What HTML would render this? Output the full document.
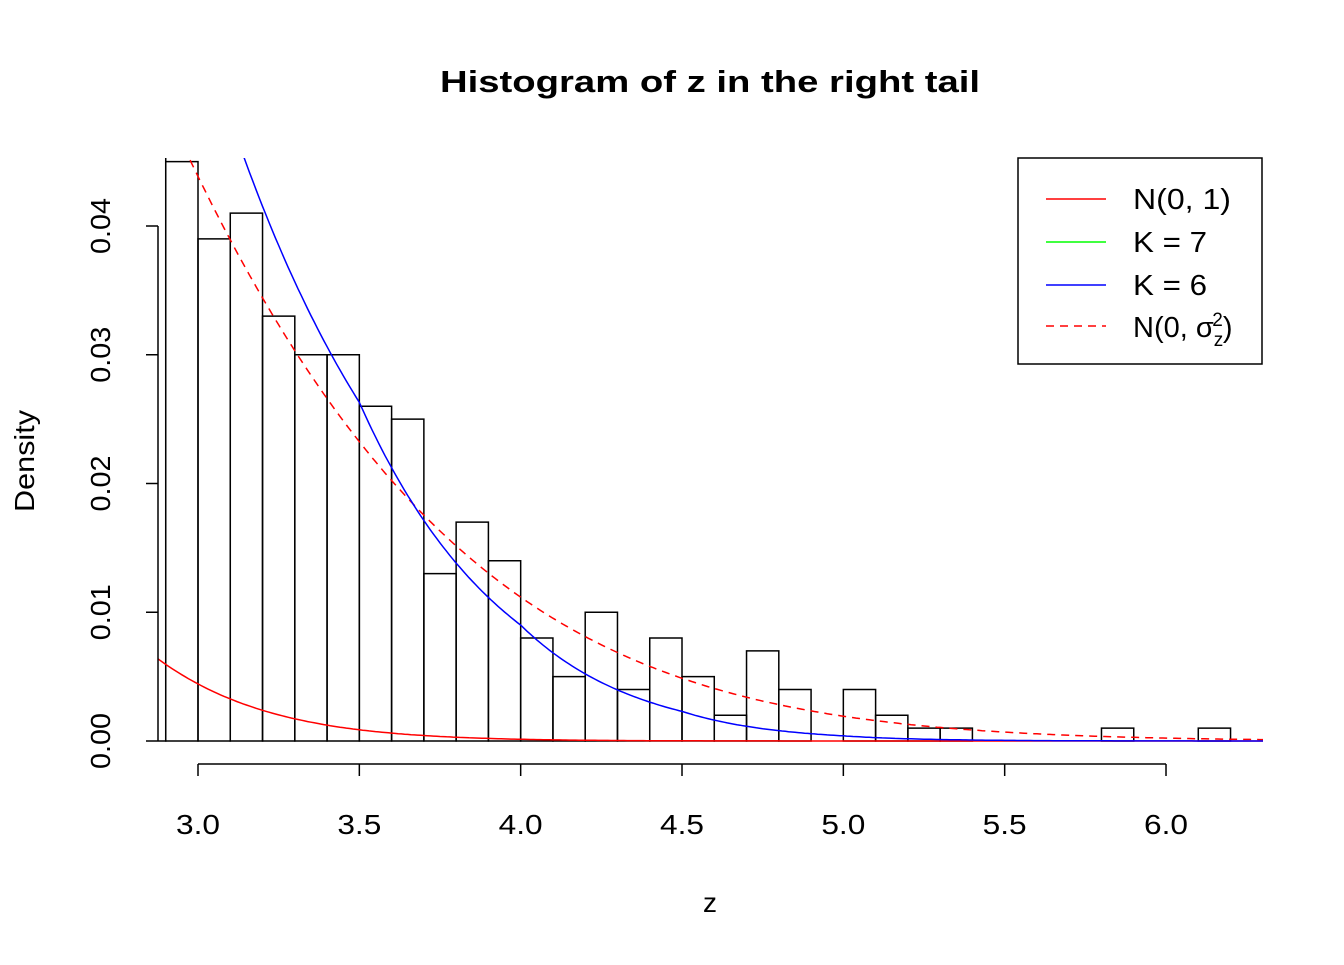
<!DOCTYPE html>
<html><head><meta charset="utf-8"><style>
body{margin:0;background:#fff}
svg text{font-family:"Liberation Sans",Arial,sans-serif;fill:#000}
</style></head><body>
<svg id="s" width="1344" height="960" xmlns="http://www.w3.org/2000/svg">
<defs><clipPath id="c"><rect x="158" y="158" width="1105" height="590"/></clipPath></defs>
<text x="710" y="92" font-size="31" font-weight="bold" text-anchor="middle" textLength="540" lengthAdjust="spacingAndGlyphs">Histogram of z in the right tail</text>
<g id="bars" clip-path="url(#c)" fill="none" stroke="#000" stroke-width="1.5"></g>
<g id="curves" clip-path="url(#c)" fill="none" stroke-width="1.5"></g>
<g stroke="#000" stroke-width="1.5" fill="none">
<line x1="158" y1="226" x2="158" y2="741"/>
<line x1="198" y1="764" x2="1166" y2="764"/>
</g>
<g id="ax" stroke="#000" stroke-width="1.5"></g>
<text x="710" y="912" font-size="28" text-anchor="middle">z</text>
<text transform="translate(34,461) rotate(-90)" font-size="28" text-anchor="middle" textLength="102" lengthAdjust="spacingAndGlyphs">Density</text>
<rect x="1018" y="158" width="244" height="206" fill="#fff" stroke="#000" stroke-width="1.5"/>
<line x1="1046" y1="199" x2="1106" y2="199" stroke="#f00" stroke-width="1.5"/>
<line x1="1046" y1="242" x2="1106" y2="242" stroke="#0f0" stroke-width="1.5"/>
<line x1="1046" y1="285" x2="1106" y2="285" stroke="#00f" stroke-width="1.5"/>
<line x1="1046" y1="326" x2="1106" y2="326" stroke="#f00" stroke-width="1.5" stroke-dasharray="8,6"/>
<text x="1133" y="209" font-size="29" textLength="98" lengthAdjust="spacingAndGlyphs">N(0, 1)</text>
<text x="1133" y="252" font-size="29" textLength="74" lengthAdjust="spacingAndGlyphs">K = 7</text>
<text x="1133" y="295" font-size="29" textLength="74" lengthAdjust="spacingAndGlyphs">K = 6</text>
<text x="1133" y="337" font-size="29">N(0, σ<tspan font-size="19" dy="9">z</tspan><tspan font-size="19" dx="-11" dy="-20">2</tspan><tspan dy="11">)</tspan></text>
</svg>
<script>
const X=z=>198+(z-3)*322.67, Y=d=>741-d*12875, NS="http://www.w3.org/2000/svg";
function el(p,t,a){const e=document.createElementNS(NS,t);for(const k in a)e.setAttribute(k,a[k]);p.appendChild(e);return e;}
const b=document.getElementById('bars');
const h=[0.06,0.045,0.039,0.041,0.033,0.030,0.030,0.026,0.025,0.013,0.017,0.014,0.008,0.005,0.010,0.004,0.008,0.005,0.002,0.007,0.004,0,0.004,0.002,0.001,0.001,0,0,0,0,0.001,0,0,0.001,0];
h.forEach((v,i)=>{const z=2.8+i*0.1;el(b,'rect',{x:X(z),y:Y(v),width:X(z+0.1)-X(z),height:v*12875});});
const ax=document.getElementById('ax');
const S=document.getElementById('s');
[0,0.01,0.02,0.03,0.04].forEach(v=>{el(ax,'line',{x1:146,y1:Y(v),x2:158,y2:Y(v)});const t=el(S,'text',{transform:`translate(110,${Y(v)}) rotate(-90)`,'font-size':28,'text-anchor':'middle',stroke:'none',textLength:56,lengthAdjust:'spacingAndGlyphs'});t.textContent=v.toFixed(2);});
[3,3.5,4,4.5,5,5.5,6].forEach(v=>{el(ax,'line',{x1:X(v),y1:764,x2:X(v),y2:776});const t=el(S,'text',{x:X(v),y:834,'font-size':28,'text-anchor':'middle',stroke:'none',textLength:44,lengthAdjust:'spacingAndGlyphs'});t.textContent=v.toFixed(1);});
const cv=document.getElementById('curves');
function path(f,col,dash){let d='';for(let z=2.85;z<=6.31;z+=0.01){d+=(d?'L':'M')+X(z).toFixed(1)+','+Y(f(z)).toFixed(1);}const a={d,stroke:col};if(dash)a['stroke-dasharray']=dash;el(cv,'path',a);}
path(z=>Math.exp(-z*z/2)/2.5066,'#f00');
const s2=2.56;path(z=>Math.exp(-z*z/(2*s2))/Math.sqrt(2*Math.PI*s2)*1.02,'#f00','8,6');
const P=[[2.9,0.062],[3.14,0.0455],[3.5,0.0263],[4,0.009],[4.5,0.0023],[5,0.0004],[5.5,0.00005],[6.4,0.000001]];
path(z=>{for(let i=0;i<P.length-1;i++){if(z<=P[i+1][0]){const t=(z-P[i][0])/(P[i+1][0]-P[i][0]);return Math.exp(Math.log(P[i][1])*(1-t)+Math.log(P[i+1][1])*t);}}return 0;},'#00f');
</script>
</body></html>
